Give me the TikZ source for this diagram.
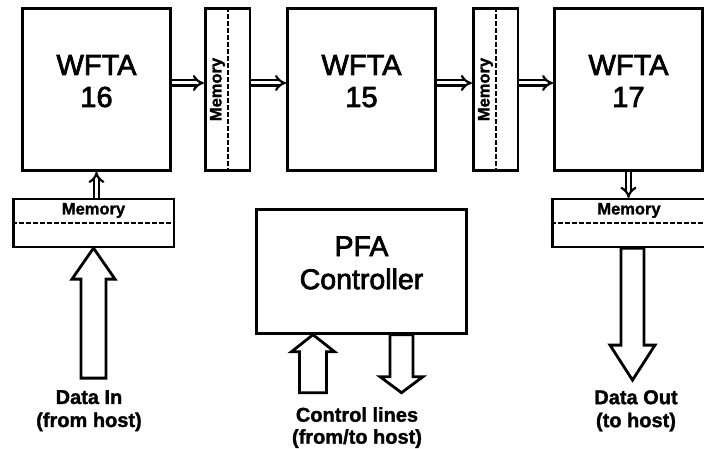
\documentclass[tikz,border=0pt]{standalone}
\usepackage{fontspec}
\setmainfont{Liberation Sans}
\newfontfamily\heavyfont{Liberation Sans}[FakeBold=2.5]
\newfontfamily\heavysmall{Liberation Sans Bold}[FakeBold=1.5]
\usetikzlibrary{arrows.meta, positioning, calc}

\newcommand{\lowstrut}{\rule[-17pt]{0pt}{0pt}}

\begin{document}
\begin{tikzpicture}[
    x=1pt, y=-1pt,
    unit/.style={rectangle, draw, line width=2.8pt, minimum width=148pt, minimum height=162pt, align=center, font=\heavyfont\fontsize{29}{32}\selectfont},
    ctrlbox/.style={rectangle, draw, line width=2.8pt, minimum width=210pt, minimum height=124pt, align=center, font=\heavyfont\fontsize{28.5}{33}\selectfont},
    memv/.style={rectangle, draw, line width=2.6pt, minimum width=44.6pt, minimum height=162.2pt},
    memh/.style={rectangle, draw, line width=2.6pt, minimum width=160.6pt, minimum height=47.6pt},
    memtext/.style={font=\heavysmall\fontsize{16.5}{18}\selectfont, inner sep=0pt},
    memdash/.style={line width=2pt, dash pattern=on 5pt off 2pt},
    link/.style={double, double distance=3pt, line width=2.2pt, -{Implies}},
    bigarrow/.style={line width=2.8pt, line join=miter},
    hostlabel/.style={align=center, inner sep=0pt, font=\heavysmall\fontsize{20}{23}\selectfont}
]
\useasboundingbox (0,0) rectangle (704,449);

% processing chain
\node[unit] (w16) at (96.5,89.5) {WFTA\\16\lowstrut};
\node[memv, right=32pt of w16] (m1) {};
\node[unit, right=35pt of m1] (w15) {WFTA\\15\lowstrut};
\node[memv, right=35pt of w15] (m2) {};
\node[unit, right=34pt of m2] (w17) {WFTA\\17\lowstrut};

% input and output memories
\node[memh, below=26pt of w16, xshift=-3pt] (mi) {};
\node[memh, below=26pt of w17, xshift=4pt] (mo) {};
\node[ctrlbox, below=36pt of w15] (ctrl) {PFA\\Controller\lowstrut};

\draw[memdash] (m1.north) -- (m1.south);
\draw[memdash] (m2.north) -- (m2.south);
\draw[memdash] (mi.west) -- (mi.east);
\draw[memdash] (mo.west) -- (mo.east);
\node[memtext, rotate=90] (m1txt) at ($(m1.center)+(-10,0)$) {Memory};
\node[memtext, rotate=90] (m2txt) at ($(m2.center)+(-10,0)$) {Memory};
\node[memtext] (mitxt) at ($(mi.center)+(0,-12.5)$) {Memory};
\node[memtext] (motxt) at ($(mo.center)+(-3.5,-12.5)$) {Memory};

% data links
\coordinate (lane) at (0,83);
\draw[link] (w16.east |- lane) -- (m1.west |- lane);
\draw[link] (m1.east |- lane) -- (w15.west |- lane);
\draw[link] (w15.east |- lane) -- (m2.west |- lane);
\draw[link] (m2.east |- lane) -- (w17.west |- lane);
\draw[link] (mi.north -| w16.south) -- (w16.south);
\draw[link] (w17.south) -- (mo.north -| w17.south);

% host arrows
\draw[bigarrow] (mi.south) -- ++(21.5,31) -- ++(-9,0) -- ++(0,99) -- ++(-25,0) -- ++(0,-99) -- ++(-9,0) -- cycle;
\draw[bigarrow] ($(ctrl.south)+(-48.5,0)$) -- ++(21.5,17) -- ++(-8,0) -- ++(0,41) -- ++(-27,0) -- ++(0,-41) -- ++(-8,0) -- cycle;
\draw[bigarrow] ($(ctrl.south)+(28.5,0)$) -- ++(0,42) -- ++(-10,0) -- ++(21.5,16) -- ++(21.5,-16) -- ++(-10,0) -- ++(0,-42) -- cycle;
\draw[bigarrow] ($(mo.south)+(-11.5,0)$) -- ++(0,97) -- ++(-11,0) -- ++(22.5,35) -- ++(22.5,-35) -- ++(-11,0) -- ++(0,-97) -- cycle;

\node[hostlabel, anchor=north] (datain) at (89,390) {Data In\\(from host)};
\node[hostlabel, anchor=north, font=\heavysmall\fontsize{20}{22}\selectfont] (ctrllines) at (357,407) {Control lines\\(from/to host)};
\node[hostlabel, anchor=north] (dataout) at (636,390) {Data Out\\(to host)};
\end{tikzpicture}
\end{document}
